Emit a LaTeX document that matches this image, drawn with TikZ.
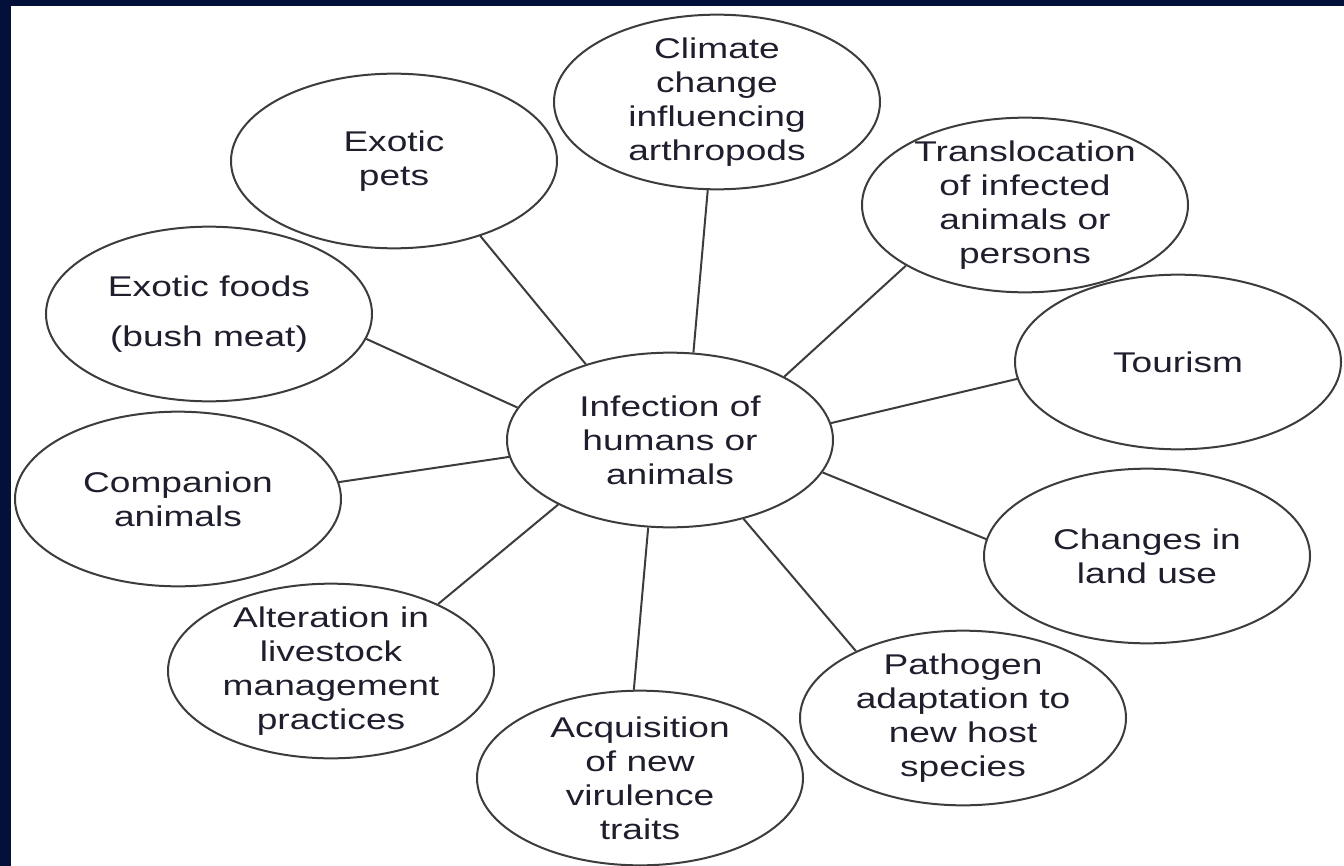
\documentclass[tikz,border=0pt]{standalone}
\usepackage{fontspec}
\setmainfont[FakeStretch=1.3]{Liberation Sans}
\usetikzlibrary{shapes.geometric}

\definecolor{slidenavy}{RGB}{2,16,58}
\definecolor{inkgray}{RGB}{60,60,60}
\definecolor{textink}{RGB}{30,30,45}

\tikzset{every picture/.style={line width=0.75pt}}
\tikzset{
  bubble/.style={ellipse, draw=inkgray, line width=1.5pt, minimum width=244.5pt, minimum height=131pt,
    inner xsep=0pt, inner ysep=-10pt, align=center, text=textink,
    font=\fontsize{21.4pt}{25.5pt}\selectfont},
  spoke/.style={draw=inkgray, line width=1.5pt}
}

\begin{document}
\begin{tikzpicture}[x=0.75pt,y=0.75pt,yscale=-1,xscale=1]
%uncomment if require: \path (0,866); %set diagram left start at 0, and has height of 866
\useasboundingbox (0,0) rectangle (1344,866);

%Shape: Rectangle (slide frame)
\fill[slidenavy] (0,0) rectangle (1344,866);
\fill[white] (11,6) rectangle (1344,866);

%Shape: Ellipse (centre)
\node[bubble] (infect) at (670,440) {Infection of\\humans or\\animals};

%Shape: Ellipse
\node[bubble] (climate) at (717,102) {Climate\\change\\influencing\\arthropods};
%Shape: Ellipse
\node[bubble] (pets) at (394,161) {Exotic\\pets};
%Shape: Ellipse
\node[bubble] (transloc) at (1025,205) {Translocation\\of infected\\animals or\\persons};
%Shape: Ellipse
\node[bubble] (foods) at (209,314) {Exotic foods\\[12pt](bush meat)};
%Shape: Ellipse
\node[bubble] (tourism) at (1178,362) {Tourism};
%Shape: Ellipse
\node[bubble] (companion) at (178,499) {Companion\\animals};
%Shape: Ellipse
\node[bubble] (landuse) at (1147,556) {Changes in\\land use};
%Shape: Ellipse
\node[bubble] (livestock) at (331,671) {Alteration in\\livestock\\management\\practices};
%Shape: Ellipse
\node[bubble] (pathogen) at (963,718) {Pathogen\\adaptation to\\new host\\species};
%Shape: Ellipse
\node[bubble] (virulence) at (640,778) {Acquisition\\of new\\virulence\\traits};

%Straight Lines
\draw[spoke] (climate.264) -- (infect.75);
\draw[spoke] (pets.-41) -- (infect.138);
\draw[spoke] (transloc.207) -- (infect.29);
\draw[spoke] (tourism.186) -- (infect.6);
\draw[spoke] (landuse.174) -- (infect.-12);
\draw[spoke] (pathogen.148) -- (infect.-47);
\draw[spoke] (virulence.94) -- (infect.256);
\draw[spoke] (livestock.32) -- (infect.210);
\draw[spoke] (companion.6) -- (infect.186);
\draw[spoke] (foods.-9) -- (infect.168);

\end{tikzpicture}
\end{document}
